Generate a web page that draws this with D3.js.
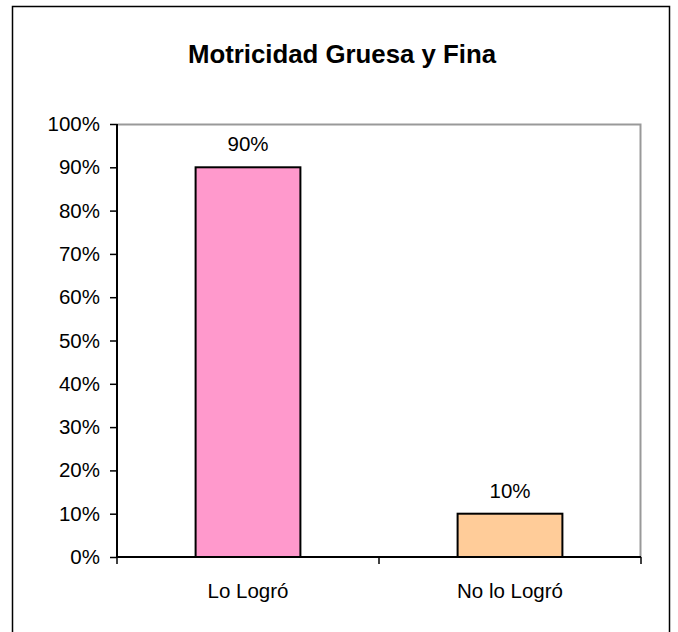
<!DOCTYPE html>
<html>
<head>
<meta charset="utf-8">
<script src="https://cdn.jsdelivr.net/npm/d3@7"></script>
<style>
  body { margin: 0; background: #fff; }
  svg text { font-family: 'Liberation Sans', Arial, sans-serif; fill: #000; }
</style>
</head>
<body>
<div id="chart"></div>
<script>
const title = 'Motricidad Gruesa y Fina';
const categories = ['Lo Logró', 'No lo Logró'];
const values = [0.9, 0.1];
const barColors = ['#ff99cc', '#ffcc99'];
const yTicks = [0, 0.1, 0.2, 0.3, 0.4, 0.5, 0.6, 0.7, 0.8, 0.9, 1];

const canvasWidth = 678;
const canvasHeight = 632;
const margins = { top: 124, right: 37, bottom: 75, left: 117 };
const width = canvasWidth - margins.left - margins.right;
const height = canvasHeight - margins.top - margins.bottom;
const labelSize = '20.5px';

const svg = d3.select('#chart')
  .append('svg')
    .attr('width', canvasWidth)
    .attr('height', canvasHeight);

// outer frame
svg.append('rect')
  .attr('x', 12.5)
  .attr('y', 6.5)
  .attr('width', 657)
  .attr('height', 640)
  .attr('fill', 'none')
  .attr('stroke', '#000')
  .attr('stroke-width', 1.5);

svg.append('text')
  .attr('x', 342)
  .attr('y', 63)
  .attr('text-anchor', 'middle')
  .style('font-size', '25.8px')
  .style('font-weight', 'bold')
  .text(title);

const graph = svg.append('g')
  .attr('transform', `translate(${margins.left}, ${margins.top})`);

const x = d3.scaleBand()
  .domain(categories)
  .range([0, width])
  .paddingInner(0.6)
  .paddingOuter(0.3);

const y = d3.scaleLinear()
  .domain([0, 1])
  .range([height, 0]);

// plot area border (top + right, gray)
graph.append('path')
  .attr('d', `M0,0.5H${width - 0.5}V${height}`)
  .attr('fill', 'none')
  .attr('stroke', '#999')
  .attr('stroke-width', 2);

// bars
graph.selectAll('.bar')
  .data(values)
  .enter()
  .append('rect')
    .attr('class', 'bar')
    .attr('x', (d, i) => x(categories[i]))
    .attr('y', d => y(d))
    .attr('width', x.bandwidth())
    .attr('height', d => y(0) - y(d))
    .attr('fill', (d, i) => barColors[i])
    .attr('stroke', '#000')
    .attr('stroke-width', 2);

// value labels
graph.selectAll('.value')
  .data(values)
  .enter()
  .append('text')
    .attr('class', 'value')
    .attr('x', (d, i) => x(categories[i]) + x.bandwidth() / 2)
    .attr('y', d => y(d) - 16)
    .attr('text-anchor', 'middle')
    .style('font-size', labelSize)
    .text(d => d3.format('.0%')(d));

// y axis
const axisY = d3.axisLeft(y)
  .tickValues(yTicks)
  .tickFormat(d3.format('.0%'))
  .tickSize(7)
  .tickPadding(10);

const gy = graph.append('g').call(axisY);
gy.select('.domain').attr('stroke', '#000').attr('stroke-width', 2).attr('d', `M0,0V${height}`);
gy.selectAll('.tick line').attr('stroke', '#000').attr('stroke-width', 1.5);
gy.selectAll('.tick text')
  .style('font-size', labelSize)
  .style('font-family', "'Liberation Sans', Arial, sans-serif")
  .attr('fill', '#000');

// x axis with ticks at band edges
const gx = graph.append('g')
  .attr('transform', `translate(0, ${height})`);
gx.append('line')
  .attr('x1', 0).attr('x2', width)
  .attr('stroke', '#000').attr('stroke-width', 2);
const edges = [0, width / 2, width];
gx.selectAll('.edge')
  .data(edges)
  .enter()
  .append('line')
    .attr('x1', d => d).attr('x2', d => d)
    .attr('y1', 0).attr('y2', 7)
    .attr('stroke', '#000').attr('stroke-width', 1.5);
gx.selectAll('.cat')
  .data(categories)
  .enter()
  .append('text')
    .attr('x', d => x(d) + x.bandwidth() / 2)
    .attr('y', 41)
    .attr('text-anchor', 'middle')
    .style('font-size', labelSize)
    .text(d => d);
</script>
</body>
</html>
